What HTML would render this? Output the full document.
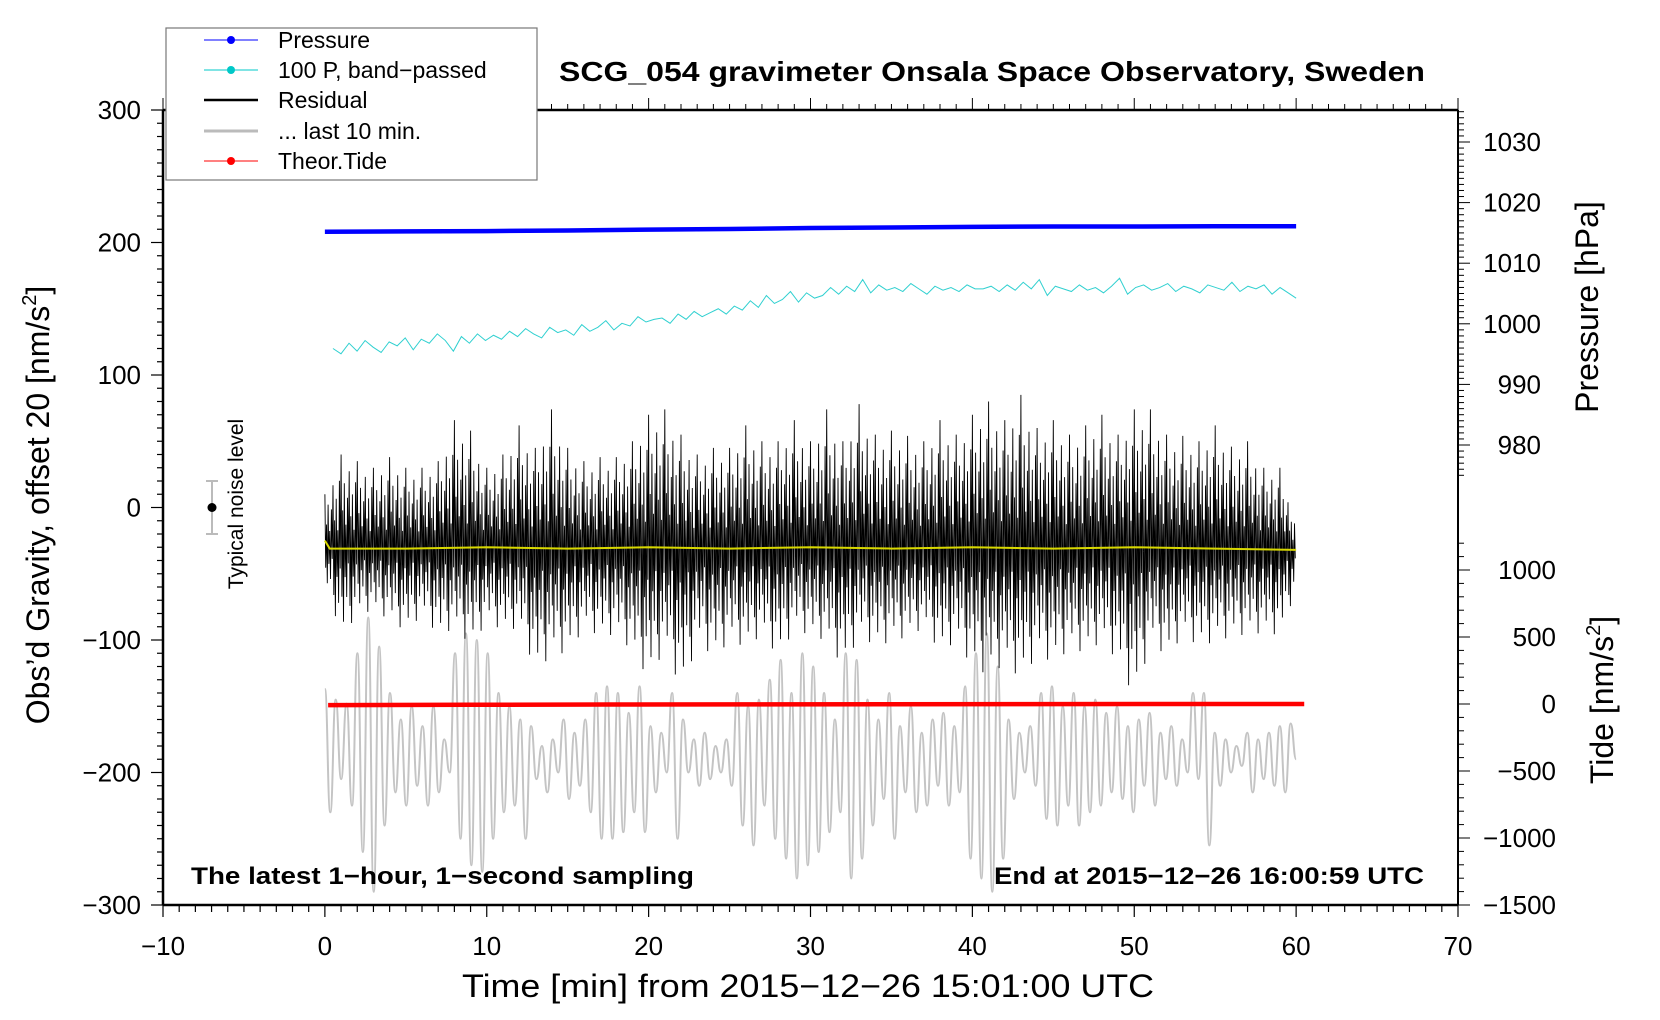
<!DOCTYPE html>
<html><head><meta charset="utf-8"><style>
html,body{margin:0;padding:0;background:#fff;}
svg{display:block;font-family:"Liberation Sans",sans-serif;}
</style></head><body>
<svg id="chart" width="1660" height="1020" viewBox="0 0 1660 1020" xmlns="http://www.w3.org/2000/svg">
<rect width="1660" height="1020" fill="#fff"/>
<g id="ticks"></g>
<g id="series"></g>
<g id="frame">
<line x1="163" y1="110" x2="163" y2="905" stroke="#000" stroke-width="2.5"/>
<line x1="163" y1="905" x2="1458" y2="905" stroke="#000" stroke-width="2.5"/>
<line x1="1458" y1="110" x2="1458" y2="905" stroke="#000" stroke-width="2"/>
<line x1="163" y1="110" x2="1458" y2="110" stroke="#000" stroke-width="2.5"/>
</g>
<g id="labels" font-size="26"></g>
<text x="992" y="81" text-anchor="middle" font-size="28" font-weight="bold" textLength="866" lengthAdjust="spacingAndGlyphs">SCG_054 gravimeter Onsala Space Observatory, Sweden</text>
<text transform="translate(49,505) rotate(-90)" text-anchor="middle" font-size="32">Obs’d Gravity, offset 20 [nm/s<tspan font-size="20" dy="-13">2</tspan><tspan dy="13">]</tspan></text>
<text x="808" y="997" text-anchor="middle" font-size="32" textLength="692" lengthAdjust="spacingAndGlyphs">Time [min] from 2015−12−26 15:01:00 UTC</text>
<text transform="translate(1598,307) rotate(-90)" text-anchor="middle" font-size="32">Pressure [hPa]</text>
<text transform="translate(1613,700) rotate(-90)" text-anchor="middle" font-size="32">Tide [nm/s<tspan font-size="20" dy="-13">2</tspan><tspan dy="13">]</tspan></text>
<text x="191" y="884" font-size="24" font-weight="bold" textLength="503" lengthAdjust="spacingAndGlyphs">The latest 1−hour, 1−second sampling</text>
<text x="1424" y="884" text-anchor="end" font-size="24" font-weight="bold" textLength="430" lengthAdjust="spacingAndGlyphs">End at 2015−12−26 16:00:59 UTC</text>
<g>
<line x1="212" y1="481" x2="212" y2="534" stroke="#bbb" stroke-width="2"/>
<line x1="206" y1="481" x2="218" y2="481" stroke="#bbb" stroke-width="2"/>
<line x1="206" y1="534" x2="218" y2="534" stroke="#bbb" stroke-width="2"/>
<circle cx="212" cy="507.5" r="4.5" fill="#000"/>
<text transform="translate(243,504) rotate(-90)" text-anchor="middle" font-size="21">Typical noise level</text>
</g>
<g>
<rect x="166" y="28" width="371" height="152" fill="#fff" stroke="#777" stroke-width="1.2"/>
<g><line x1="204" y1="40" x2="258" y2="40" stroke="#0000ff" stroke-width="1"/><circle cx="231" cy="40" r="4" fill="#0000ff"/><text x="278" y="48" font-size="23">Pressure</text></g>
<g><line x1="204" y1="70" x2="258" y2="70" stroke="#00c8c8" stroke-width="1"/><circle cx="231" cy="70" r="4" fill="#00c8c8"/><text x="278" y="78" font-size="23">100 P, band−passed</text></g>
<g><line x1="204" y1="100" x2="258" y2="100" stroke="#000" stroke-width="2.5"/><text x="278" y="108" font-size="23">Residual</text></g>
<g><line x1="204" y1="131" x2="258" y2="131" stroke="#bbb" stroke-width="3"/><text x="278" y="139" font-size="23">... last 10 min.</text></g>
<g><line x1="204" y1="161" x2="258" y2="161" stroke="#ff0000" stroke-width="1"/><circle cx="231" cy="161" r="4" fill="#ff0000"/><text x="278" y="169" font-size="23">Theor.Tide</text></g>
</g>
</svg>
<script>
// ---- data ----
const xTicks = [-10,0,10,20,30,40,50,60,70];
const yTicks = [300,200,100,0,-100,-200,-300];
const pTicks = [1030,1020,1010,1000,990,980];
const tideTicks = [1000,500,0,-500,-1000,-1500];
const pressure = [1015.2,1015.25,1015.3,1015.4,1015.55,1015.65,1015.8,1015.9,1016.0,1016.05,1016.05,1016.1,1016.1];
const bandPassed = [120,116,124,118,126,121,117,125,122,128,119,127,124,131,126,118,129,124,131,126,130,
127,133,129,135,131,128,136,132,134,130,138,133,136,141,134,139,137,144,140,142,
143,139,146,142,148,144,147,150,146,152,149,156,151,160,154,157,163,155,162,158,
160,166,161,167,163,172,162,168,164,166,163,169,165,161,167,164,166,163,168,165,
165,167,163,168,164,170,165,172,160,167,165,163,168,164,166,162,167,173,161,166,
168,164,166,169,163,167,165,162,168,166,164,170,163,167,165,168,161,166,162,158];
const residualHi = [10,40,35,30,38,30,30,35,66,58,30,40,62,45,74,45,35,38,38,50,70,74,55,40,45,45,62,50,50,66,50,74,50,78,55,58,54,50,66,55,70,80,66,85,60,66,55,62,70,55,74,74,55,54,50,62,46,50,30,30,-10];
const residualLo = [-58,-98,-80,-78,-85,-94,-80,-98,-90,-105,-85,-94,-90,-125,-110,-110,-90,-98,-95,-110,-130,-105,-140,-100,-114,-100,-106,-95,-114,-90,-98,-100,-122,-95,-106,-100,-98,-90,-110,-100,-122,-126,-118,-130,-110,-118,-106,-110,-100,-118,-145,-100,-114,-95,-106,-100,-98,-95,-95,-96,-60];
const residualMean = [-25,-31,-30,-31,-30,-31,-30,-31,-30,-31,-30,-31,-32];
const last10Peaks = [-137,-145,-148,-110,-83,-105,-140,-160,-150,-165,-150,-175,-110,-95,-100,-110,-140,-150,-160,-165,-180,-175,-160,-170,-160,-140,-135,-140,-155,-135,-165,-170,-140,-160,-175,-170,-180,-175,-140,-150,-145,-130,-115,-140,-110,-120,-140,-160,-110,-115,-145,-160,-140,-165,-150,-170,-160,-155,-165,-135,-110,-95,-120,-160,-170,-165,-140,-135,-150,-140,-150,-145,-155,-150,-165,-160,-155,-170,-165,-175,-140,-140,-170,-175,-180,-170,-175,-170,-165,-163];
const last10Troughs = [-230,-205,-225,-260,-290,-240,-215,-225,-210,-225,-215,-200,-250,-270,-275,-250,-230,-225,-250,-205,-215,-200,-220,-210,-230,-250,-250,-245,-230,-245,-215,-200,-250,-200,-210,-205,-200,-210,-240,-255,-225,-250,-265,-280,-270,-260,-245,-230,-280,-265,-240,-220,-250,-215,-230,-225,-210,-225,-215,-265,-280,-290,-265,-220,-200,-210,-235,-240,-225,-240,-230,-225,-215,-220,-230,-210,-225,-205,-210,-200,-205,-255,-210,-200,-195,-215,-205,-210,-215,-190];
const tide = [-8,-6,-4,-3,-2,-1,0,0];

// ---- scales ----
const X = t => 163 + (t + 10) * (1295 / 80);
const Y = v => 507.5 - v * 1.325;
const YP = p => 142 + (1030 - p) * 6.06;
const YT = v => 704 - v * 0.134;
const NS = 'http://www.w3.org/2000/svg';
function mk(tag, attrs, parent){const e=document.createElementNS(NS,tag);for(const k in attrs)e.setAttribute(k,attrs[k]);parent.appendChild(e);return e;}
const ticks = document.getElementById('ticks');
const labels = document.getElementById('labels');
const series = document.getElementById('series');
function tl(x1,y1,x2,y2,w){mk('line',{x1,y1,x2,y2,stroke:'#000','stroke-width':w||1.2},ticks);}

for (let t=-10;t<=70;t++){const x=X(t);const maj=t%10===0;tl(x,905,x,maj?917:912);tl(x,110,x,maj?98:104,1);}
xTicks.forEach(t=>{const e=mk('text',{x:X(t),y:955,'text-anchor':'middle'},labels);e.textContent=(t<0?'−':'')+Math.abs(t);

});
for (let v=-300;v<=300;v+=10){const y=Y(v);const maj=v%100===0;tl(163,y,maj?151:157,y);}
yTicks.forEach(v=>{const e=mk('text',{x:141,y:Y(v)+9,'text-anchor':'end'},labels);e.textContent=(v<0?'−':'')+Math.abs(v);

});
for (let p=975;p<=1035;p++){const y=YP(p);if(y<110)continue;const maj=p%10===0;tl(1458,y,maj?1470:1464,y,1);}
pTicks.forEach(p=>{const e=mk('text',{x:1541,y:YP(p)+9,'text-anchor':'end'},labels);e.textContent=p;

});
for (let v=-1500;v<=1200;v+=100){const y=YT(v);const maj=v%500===0;tl(1458,y,maj?1470:1464,y,1);}
tideTicks.forEach(v=>{const e=mk('text',{x:1556,y:YT(v)+9,'text-anchor':'end'},labels);e.textContent=(v<0?'−':'')+Math.abs(v);

});

const tAt = (i,n,t0,t1) => t0 + i*(t1-t0)/(n-1);
{let pts=[];const n=last10Peaks.length;const N=2*n;
 for(let i=0;i<n;i++){pts.push([tAt(2*i,N,0,60),last10Peaks[i]]);pts.push([tAt(2*i+1,N,0,60),last10Troughs[i]]);}
 let d='M'+X(pts[0][0])+','+Y(pts[0][1]);
 for(let i=1;i<pts.length;i++){const a=pts[i-1],b=pts[i];const mx=(X(a[0])+X(b[0]))/2;d+=' C'+mx+','+Y(a[1])+' '+mx+','+Y(b[1])+' '+X(b[0])+','+Y(b[1]);}
 const e=mk('path',{d,fill:'none',stroke:'#c4c4c4','stroke-width':2},series);
 
 }
{const tex=[1,0.4,0.7,0.25,0.55,0.85,0.35,0.6,0.2,0.75];
 const c=-30;let d='';const n=residualHi.length;
 for(let i=0;i<n-1;i++){for(let k=0;k<tex.length;k++){const f=k/tex.length;const t=tAt(i,n,0,60)+f*(60/(n-1));
   const hi=residualHi[i]+(residualHi[i+1]-residualHi[i])*f, lo=residualLo[i]+(residualLo[i+1]-residualLo[i])*f;
   const up=c+(hi-c)*tex[k], dn=c+(lo-c)*tex[(k+4)%tex.length];
   d+=(d?' L':'M')+X(t).toFixed(1)+','+Y(up).toFixed(1)+' L'+(X(t)+0.8).toFixed(1)+','+Y(dn).toFixed(1);}}
 const e=mk('path',{d,fill:'none',stroke:'#000','stroke-width':0.9},series);
 
 }
{const n=residualMean.length;const p=residualMean.map((v,i)=>X(tAt(i,n,0,60))+','+Y(v));
 p.splice(1,0,X(0.3)+','+Y(-31));
 const e=mk('polyline',{points:p.join(' '),fill:'none',stroke:'#d8d800','stroke-width':2},series);
 
 }
{const n=tide.length;const p=tide.map((v,i)=>X(tAt(i,n,0.2,60.5))+','+YT(v));
 const e=mk('polyline',{points:p.join(' '),fill:'none',stroke:'#ff0000','stroke-width':4.5},series);
 
 }
{const n=bandPassed.length;const p=bandPassed.map((v,i)=>X(tAt(i,n,0.5,60))+','+Y(v));
 const e=mk('polyline',{points:p.join(' '),fill:'none',stroke:'#30d0d0','stroke-width':1},series);
 
 }
{const n=pressure.length;const p=pressure.map((v,i)=>X(tAt(i,n,0,60))+','+YP(v));
 const e=mk('polyline',{points:p.join(' '),fill:'none',stroke:'#0000ff','stroke-width':4.5},series);
 
 }
</script>
</body></html>
